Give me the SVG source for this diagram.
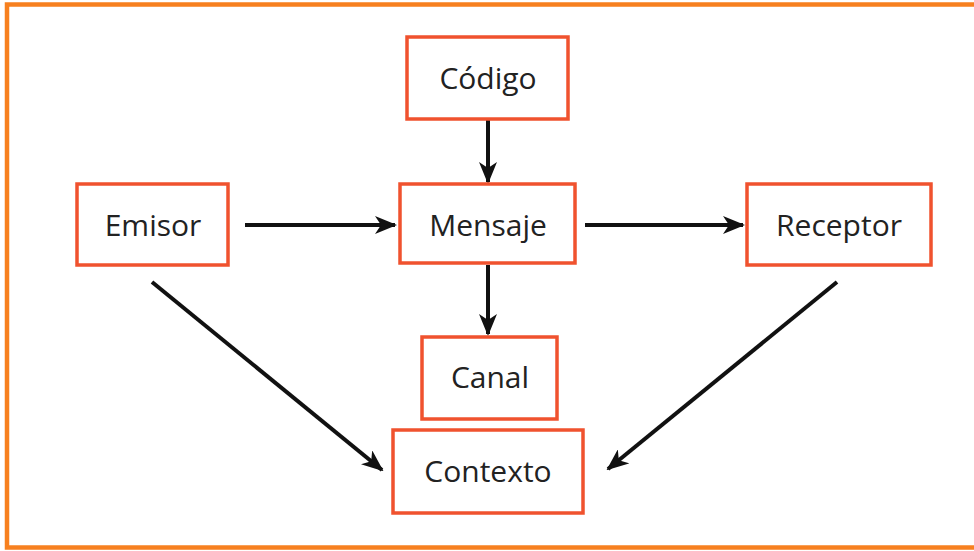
<svg xmlns="http://www.w3.org/2000/svg" width="974" height="551" viewBox="0 0 974 551">
<defs>
<style>
.box{fill:#ffffff;stroke:#F0522E;stroke-width:3.5}
.lbl{font-family:"Open Sans","Liberation Sans",sans-serif;font-size:30px;fill:#222222;text-anchor:middle}
.con{stroke:#111111;stroke-width:4;fill:none;marker-end:url(#ah)}
</style>
<marker id="ah" viewBox="0 0 22 18" refX="20" refY="9" markerWidth="22" markerHeight="18" markerUnits="userSpaceOnUse" orient="auto">
<path d="M0,0 L22,9 L0,18 L6,9 Z" fill="#111111"/>
</marker>
</defs>
<rect x="0" y="0" width="974" height="551" fill="#ffffff"/>
<rect x="7" y="4.5" width="990" height="543" fill="none" stroke="#F7801F" stroke-width="4.5"/>
<g id="connectors">
<line class="con" x1="488" y1="120" x2="488" y2="182"/>
<line class="con" x1="245" y1="225" x2="395" y2="225"/>
<line class="con" x1="585" y1="225" x2="743" y2="225"/>
<line class="con" x1="488" y1="265" x2="488" y2="334"/>
<line class="con" x1="152" y1="282" x2="382" y2="470"/>
<line class="con" x1="837" y1="282" x2="608" y2="469"/>
</g>
<g id="codigo"><rect class="box" x="407" y="37" width="161" height="82"/><text class="lbl" x="488" y="89">Código</text></g>
<g id="emisor"><rect class="box" x="77" y="184" width="151" height="81"/><text class="lbl" x="153" y="236">Emisor</text></g>
<g id="mensaje"><rect class="box" x="400" y="184" width="175" height="79"/><text class="lbl" x="488" y="236">Mensaje</text></g>
<g id="receptor"><rect class="box" x="747" y="184" width="184" height="81"/><text class="lbl" x="839" y="236">Receptor</text></g>
<g id="canal"><rect class="box" x="422" y="337" width="135" height="82"/><text class="lbl" x="490" y="388">Canal</text></g>
<g id="contexto"><rect class="box" x="393" y="430" width="190" height="83"/><text class="lbl" x="488" y="482">Contexto</text></g>
</svg>
